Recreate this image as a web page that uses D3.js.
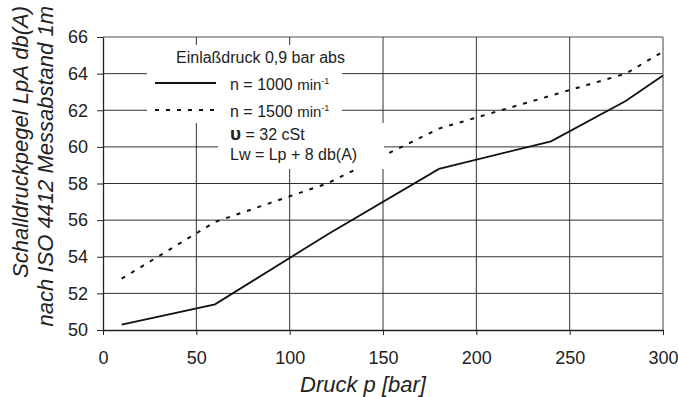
<!DOCTYPE html>
<html>
<head>
<meta charset="utf-8">
<script src="https://cdn.jsdelivr.net/npm/d3@7"></script>
<style>
  body { margin: 0; background: #fff; }
  svg { font-family: "Liberation Sans", Arial, sans-serif; }
</style>
</head>
<body>
<div id="chart"></div>
<script>
// data
var pressure = [10, 60, 120, 180, 240, 280, 300];
var level1000 = [50.3, 51.4, 55.2, 58.8, 60.3, 62.5, 63.9];
var level1500 = [52.8, 55.9, 58.0, 61.0, 62.8, 64.0, 65.2];
var xTicks = [0, 50, 100, 150, 200, 250, 300];
var yTicks = [50, 52, 54, 56, 58, 60, 62, 64, 66];

var width = 678, height = 397;
var margin = {top: 37, right: 15, bottom: 67, left: 103};

var svg = d3.select("#chart").append("svg")
    .attr("width", width)
    .attr("height", height);

// scales
var x = d3.scaleLinear().domain([0, 300]).range([margin.left, width - margin.right]);
var y = d3.scaleLinear().domain([50, 66]).range([height - margin.bottom, margin.top]);

// grid (outer border lines come out lighter in the original)
svg.append("g").selectAll("line")
    .data(yTicks.slice(1))
  .enter().append("line")
    .attr("x1", x(0)).attr("x2", x(300))
    .attr("y1", function(d) { return y(d); })
    .attr("y2", function(d) { return y(d); })
    .attr("stroke", function(d) { return d == 66 ? "#888" : "#333"; })
    .attr("stroke-width", function(d) { return d == 66 ? 1.6 : 1; });

svg.append("g").selectAll("line")
    .data(xTicks.slice(1))
  .enter().append("line")
    .attr("y1", y(50)).attr("y2", y(66))
    .attr("x1", function(d) { return x(d); })
    .attr("x2", function(d) { return x(d); })
    .attr("stroke", function(d) { return d == 300 ? "#888" : "#333"; })
    .attr("stroke-width", function(d) { return d == 300 ? 1.6 : 1; });

// axes
var xAxis = svg.append("g")
    .attr("transform", "translate(0," + y(50) + ")")
    .call(d3.axisBottom(x).tickValues(xTicks).tickSize(5).tickSizeOuter(0).tickPadding(16));
var yAxis = svg.append("g")
    .attr("transform", "translate(" + x(0) + ",0)")
    .call(d3.axisLeft(y).tickValues(yTicks).tickSize(6).tickSizeOuter(0).tickPadding(9));

[xAxis, yAxis].forEach(function(a) {
  a.select(".domain").attr("stroke", "#222").attr("stroke-width", 1.3);
  a.selectAll(".tick line").attr("stroke", "#222");
  a.selectAll("text")
    .attr("font-family", "Liberation Sans, Arial, sans-serif")
    .attr("font-size", 18).attr("fill", "#222");
});

// axis titles
svg.append("text")
    .attr("x", 363).attr("y", 392)
    .attr("text-anchor", "middle")
    .attr("font-size", 22).attr("font-style", "italic").attr("fill", "#222")
    .text("Druck p [bar]");

var yTitle = ["Schalldruckpegel LpA db(A)", "nach ISO 4412 Messabstand 1m"];
svg.selectAll("text.ytitle")
    .data(yTitle)
  .enter().append("text")
    .attr("transform", function(d, i) { return "translate(" + (28 + i * 25) + ",6) rotate(-90)"; })
    .attr("text-anchor", "end")
    .attr("font-size", 22).attr("font-style", "italic").attr("fill", "#222")
    .text(function(d) { return d; });

// lines
var line = d3.line()
    .x(function(d) { return x(d[0]); })
    .y(function(d) { return y(d[1]); });

svg.append("path")
    .datum(d3.zip(pressure, level1000))
    .attr("d", line)
    .attr("fill", "none").attr("stroke", "#111").attr("stroke-width", 1.8);

svg.append("path")
    .datum(d3.zip(pressure, level1500))
    .attr("d", line)
    .attr("fill", "none").attr("stroke", "#111").attr("stroke-width", 2)
    .attr("stroke-dasharray", "4,7");

// legend, white patches behind the text
var legend = svg.append("g");
[[168, 45, 188, 21], [147, 66, 195, 57], [218, 123, 166, 46]].forEach(function(b) {
  legend.append("rect")
    .attr("x", b[0]).attr("y", b[1]).attr("width", b[2]).attr("height", b[3])
    .attr("fill", "#fff");
});

legend.append("text")
    .attr("x", 176).attr("y", 63)
    .attr("font-size", 16).attr("fill", "#222")
    .text("Einlaßdruck  0,9 bar abs");

legend.append("line")
    .attr("x1", 155).attr("x2", 216).attr("y1", 83).attr("y2", 83)
    .attr("stroke", "#111").attr("stroke-width", 1.8);
legend.append("line")
    .attr("x1", 155).attr("x2", 216).attr("y1", 110).attr("y2", 110)
    .attr("stroke", "#111").attr("stroke-width", 2).attr("stroke-dasharray", "4,7");

var speeds = ["n = 1000 ", "n = 1500 "];
speeds.forEach(function(s, i) {
  var t = legend.append("text")
      .attr("x", 230).attr("y", 90 + i * 27)
      .attr("font-size", 16).attr("fill", "#222");
  t.append("tspan").text(s);
  t.append("tspan").attr("font-size", 15).text("min");
  t.append("tspan").attr("font-size", 9).attr("dy", -6).text("-1");
});

var visc = legend.append("text")
    .attr("x", 230).attr("y", 140)
    .attr("font-size", 16).attr("fill", "#222");
visc.append("tspan").attr("font-size", 19).attr("font-weight", "bold").text("υ");
visc.append("tspan").text(" = 32 cSt");

legend.append("text")
    .attr("x", 230).attr("y", 160)
    .attr("font-size", 16).attr("fill", "#222")
    .text("Lw = Lp + 8 db(A)");
</script>
</body>
</html>
